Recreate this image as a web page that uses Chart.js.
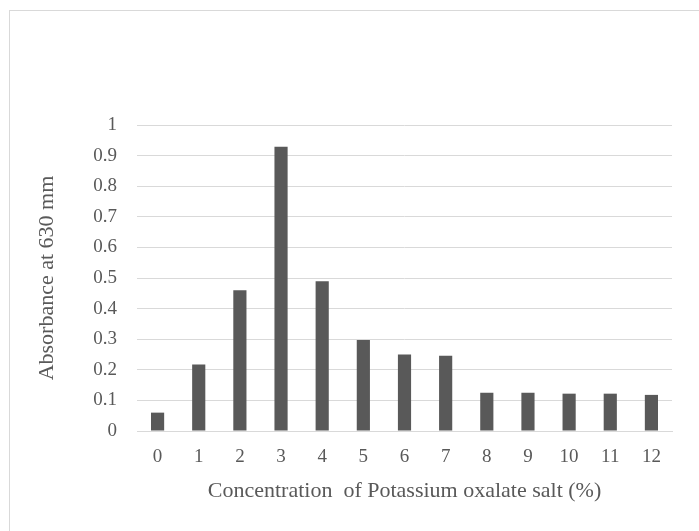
<!DOCTYPE html>
<html>
<head>
<meta charset="utf-8">
<script src="https://cdn.jsdelivr.net/npm/chart.js@4/dist/chart.umd.min.js"></script>
<style>
  html, body { margin: 0; padding: 0; background: #fff; }
  #wrap { position: relative; width: 699px; height: 531px; }
  #frame { position: absolute; left: 9px; top: 10px; right: -2px; bottom: -2px;
           border: 1px solid #d9d9d9; pointer-events: none; }
</style>
</head>
<body>
<div id="wrap">
  <canvas id="absChart" width="699" height="531"></canvas>
  <div id="frame"></div>
</div>
<script>
const concentrations = ['0', '1', '2', '3', '4', '5', '6', '7', '8', '9', '10', '11', '12'];
const absorbance = [0.06, 0.217, 0.46, 0.929, 0.489, 0.297, 0.25, 0.246, 0.125, 0.125, 0.122, 0.122, 0.118];
const yTicks = [0, 0.1, 0.2, 0.3, 0.4, 0.5, 0.6, 0.7, 0.8, 0.9, 1];

const textColor = '#595959';
const font = 'Liberation Serif, Times New Roman, serif';

new Chart(document.getElementById('absChart').getContext('2d'), {
    type: 'bar',
    data: {
        labels: concentrations,
        datasets: [{
            data: absorbance,
            backgroundColor: '#595959',
            barPercentage: 0.32,
            categoryPercentage: 1
        }]
    },
    options: {
        responsive: false,
        animation: false,
        plugins: {
            legend: { display: false },
            tooltip: { enabled: false }
        },
        layout: {
            padding: { top: 125, right: 27, left: 34, bottom: 27 }
        },
        scales: {
            x: {
                afterFit: axis => { axis.height = 73; },
                grid: { display: false },
                border: { color: '#d9d9d9' },
                ticks: { color: textColor, font: { family: font, size: 19 }, padding: 7, maxRotation: 0 },
                title: {
                    display: true,
                    text: 'Concentration  of Potassium oxalate salt (%)',
                    color: textColor,
                    font: { family: font, size: 22 },
                    padding: 0
                }
            },
            y: {
                min: 0,
                max: 1,
                afterBuildTicks: axis => { axis.ticks = yTicks.map(v => ({ value: v })); },
                afterFit: axis => { axis.width = 103; },
                grid: { color: '#d9d9d9', drawTicks: false },
                border: { display: false },
                ticks: {
                    color: textColor,
                    font: { family: font, size: 19 },
                    padding: 20,
                    callback: v => String(Math.round(v * 10) / 10)
                },
                title: {
                    display: true,
                    text: 'Absorbance at 630 mm',
                    color: textColor,
                    font: { family: font, size: 22 },
                    padding: 0
                }
            }
        }
    }
});
</script>
</body>
</html>
